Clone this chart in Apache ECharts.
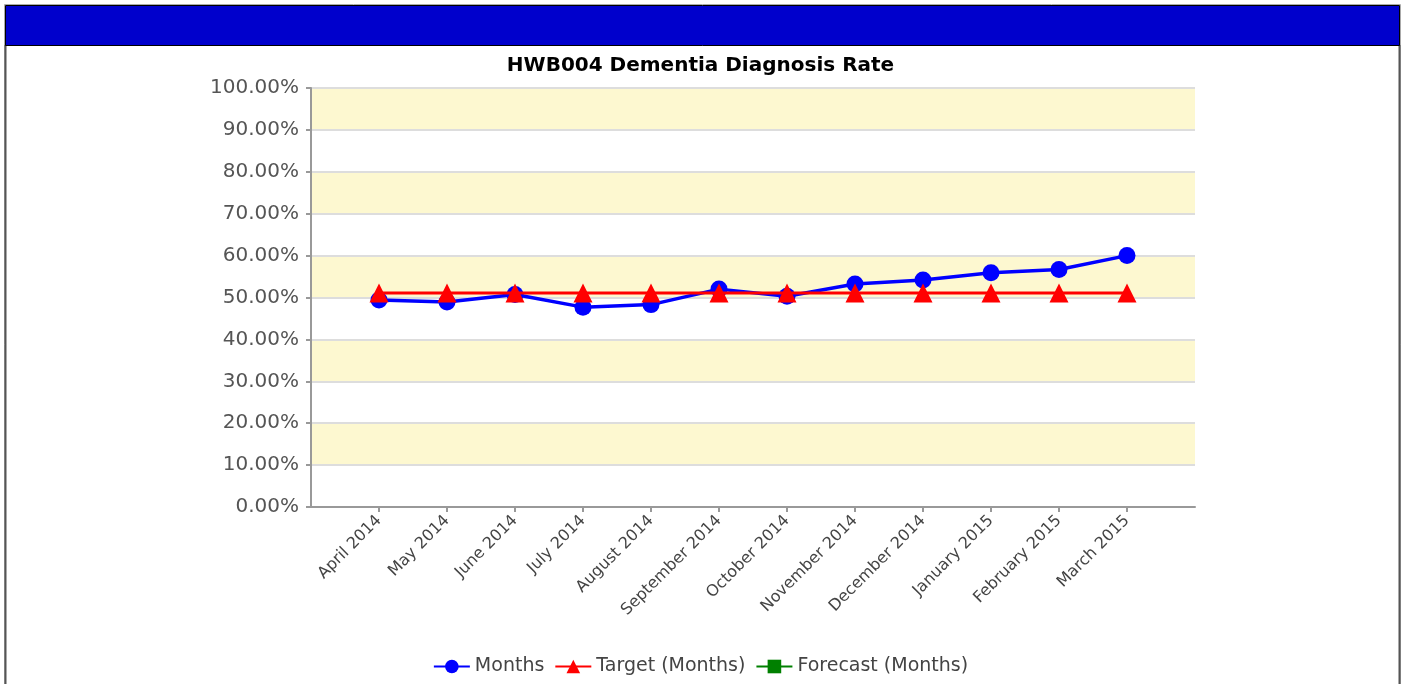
<!DOCTYPE html>
<html>
<head>
<meta charset="utf-8">
<script src="https://cdn.jsdelivr.net/npm/echarts@6/dist/echarts.min.js"></script>
<style>
html,body{margin:0;padding:0;background:#fff;}
#chart{width:1401px;height:684px;}
</style>
</head>
<body>
<div id="chart"></div>
<script>
// data (percent)
var months = ['April 2014','May 2014','June 2014','July 2014','August 2014','September 2014',
	'October 2014','November 2014','December 2014','January 2015','February 2015','March 2015'];
var actual = [49.4, 48.9, 50.7, 47.7, 48.3, 52.0, 50.3, 53.2, 54.2, 55.9, 56.7, 60.0];
var target = [51.1, 51.1, 51.1, 51.1, 51.1, 51.1, 51.1, 51.1, 51.1, 51.1, 51.1, 51.1];
var forecast = [];

var font = 'DejaVu Sans';
// one empty slot each side so the points sit in from the axis ends
var cats = [''].concat(months).concat(['']);
function pad(arr){
	return ['-'].concat(arr).concat(['-']);
}

var myChart = echarts.init(document.getElementById('chart'));
var option = {
	animation: false,
	backgroundColor: '#fff',
	title: {
		text: 'HWB004 Dementia Diagnosis Rate',
		left: 'center',
		top: 51,
		textStyle: { fontFamily: font, fontSize: 20, fontWeight: 'bold', color: '#000' }
	},
	graphic: [
		{ type: 'rect', shape: { x: 4.5, y: 4.5, width: 1396, height: 700 }, style: { fill: 'none', stroke: '#aaa', lineWidth: 1 } },
		{ type: 'line', shape: { x1: 5.5, y1: 45, x2: 5.5, y2: 684 }, style: { stroke: '#555', lineWidth: 2 } },
		{ type: 'line', shape: { x1: 1399.5, y1: 45, x2: 1399.5, y2: 684 }, style: { stroke: '#555', lineWidth: 2 } },
		{ type: 'rect', shape: { x: 5.5, y: 5.5, width: 1394, height: 40 }, style: { fill: '#0000cc', stroke: '#000', lineWidth: 1 } }
	],
	legend: {
		bottom: 3,
		left: 'center',
		itemWidth: 36,
		itemHeight: 17,
		itemGap: 10,
		textStyle: { fontFamily: font, fontSize: 19, color: '#444' },
		data: ['Months','Target (Months)','Forecast (Months)']
	},
	grid: { left: 311, right: 206, top: 88, bottom: 177 },
	xAxis: {
		type: 'category',
		data: cats,
		boundaryGap: false,
		axisLine: { lineStyle: { color: '#999', width: 2 } },
		axisTick: {
			length: 5,
			interval: function(i, v){ return v !== ''; },
			lineStyle: { color: '#999', width: 2 }
		},
		axisLabel: {
			interval: 0,
			rotate: 45,
			fontFamily: font,
			fontSize: 16,
			color: '#444',
			margin: 11
		},
		splitLine: { show: false }
	},
	yAxis: {
		type: 'value',
		min: 0,
		max: 100,
		interval: 10,
		axisLine: { show: true, lineStyle: { color: '#999', width: 2 } },
		axisTick: { show: true, length: 5, lineStyle: { color: '#999', width: 2 } },
		axisLabel: {
			fontFamily: font,
			fontSize: 20,
			color: '#555',
			margin: 12,
			formatter: function(v){ return v.toFixed(2) + '%'; }
		},
		splitLine: { show: true, lineStyle: { color: '#ddd', width: 2 } },
		splitArea: { show: true, areaStyle: { color: ['#ffffff', '#fdf8d0'] } }
	},
	series: [
		{
			name: 'Months',
			type: 'line',
			data: pad(actual),
			symbol: 'circle',
			symbolSize: 17,
			itemStyle: { color: '#0000ff' },
			lineStyle: { color: '#0000ff', width: 3.5 },
			z: 2
		},{
			name: 'Target (Months)',
			type: 'line',
			data: pad(target),
			symbol: 'triangle',
			symbolSize: 19,
			itemStyle: { color: '#ff0000' },
			lineStyle: { color: '#ff0000', width: 3 },
			z: 3
		},{
			name: 'Forecast (Months)',
			type: 'line',
			data: pad(forecast),
			symbol: 'rect',
			symbolSize: 14,
			itemStyle: { color: '#008000' },
			lineStyle: { color: '#008000', width: 3 }
		}
	]
};
myChart.setOption(option);
</script>
</body>
</html>
